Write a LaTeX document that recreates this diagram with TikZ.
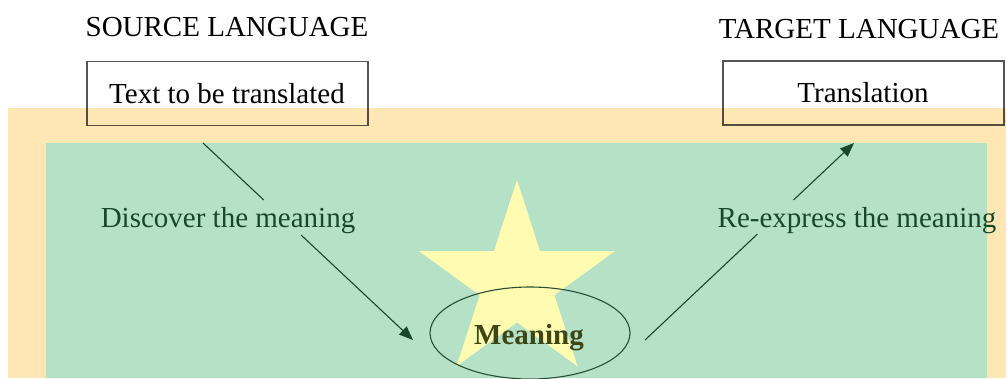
\documentclass[tikz,border=0pt]{standalone}
\usepackage{fontspec}
\setmainfont{Liberation Serif}
\usetikzlibrary{arrows.meta,shapes.geometric,calc}
\definecolor{bgorange}{RGB}{254,231,180}
\definecolor{bggreen}{RGB}{181,225,198}
\definecolor{starfill}{RGB}{255,251,176}
\definecolor{txtgreen}{RGB}{24,72,42}
\definecolor{boxline}{RGB}{85,85,85}
\definecolor{ellline}{RGB}{40,78,52}
\definecolor{meanc}{RGB}{62,70,22}
\tikzset{
  lbl/.style={font=\fontsize{29}{34}\selectfont, inner sep=0pt, anchor=base},
  glbl/.style={lbl, text=txtgreen},
  tbox/.style={draw=boxline, line width=1.1pt, minimum width=281pt, minimum height=64pt, inner sep=0pt},
  arrline/.style={draw=txtgreen, line width=1.1pt},
  arr/.style={arrline, -{Triangle[length=14pt,width=11pt]}}
}
\begin{document}
\begin{tikzpicture}[x=1pt,y=-1pt]
\useasboundingbox[fill=white] (0,0) rectangle (1006,378);
% boxes
\node[tbox] (src) at (227.5,93.5) {};
\node[tbox] (tgt) at (863.5,93) {};
\node[lbl] (srct) at (227,103) {Text to be translated};
\node[lbl] (tgtt) at (863,102) {Translation};
\node[lbl] (srcl) at (227,36) {SOURCE LANGUAGE};
\node[lbl] (tgtl) at (859,38) {TARGET LANGUAGE};
% background panels
\fill[bgorange, blend mode=multiply] (8,108) rectangle (1006,378);
\fill[bggreen] (46,143) rectangle (987,378);
% star and ellipse
\node[star, star points=5, star point ratio=2.62, fill=starfill, draw=none, inner sep=0pt, minimum size=206pt] (st) at (517,283) {};
\node[ellipse, draw=ellline, line width=1.1pt, minimum width=200pt, minimum height=92pt, inner sep=0pt] (ell) at (530,333) {};
% arrows
\coordinate (a1s) at (203,143);
\coordinate (a1e) at (413,340);
\coordinate (a2s) at (645,340);
\coordinate (a2e) at (854,143);
\coordinate (a1g1) at ($(a1s)!0.289!(a1e)$);
\coordinate (a1g2) at ($(a1s)!0.467!(a1e)$);
\coordinate (a2g1) at ($(a2s)!0.538!(a2e)$);
\coordinate (a2g2) at ($(a2s)!0.711!(a2e)$);
\draw[arrline] (a1s) -- (a1g1);
\draw[arr] (a1g2) -- (a1e);
\draw[arrline] (a2s) -- (a2g1);
\draw[arr] (a2g2) -- (a2e);
\node[glbl] (disc) at (228,227) {Discover the meaning};
\node[glbl] (reex) at (857,227) {Re-express the meaning};
\node[lbl, font=\fontsize{29}{34}\selectfont\bfseries, text=meanc] (mean) at (529,344) {Meaning};
\end{tikzpicture}
\end{document}
